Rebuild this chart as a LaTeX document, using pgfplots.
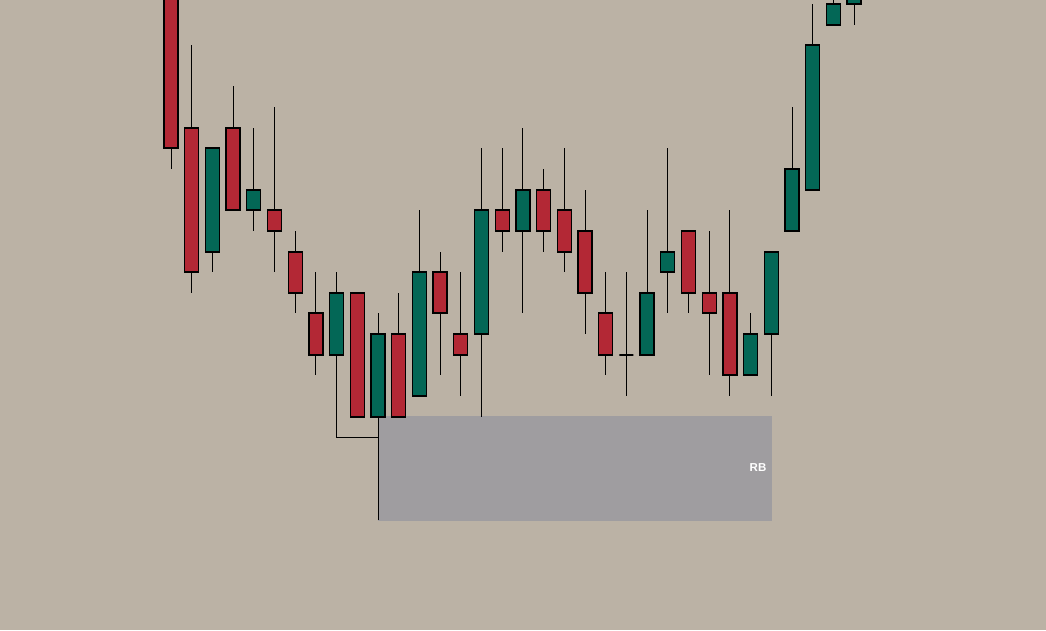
\documentclass[border=0pt]{standalone}
\usepackage{pgfplots}
\pgfplotsset{compat=1.18}
\usepackage{fontspec}
\setmainfont{Liberation Sans}

\definecolor{bgc}{HTML}{BBB2A5}
\definecolor{cred}{HTML}{B32835}
\definecolor{cgreen}{HTML}{036756}
\definecolor{boxgray}{HTML}{9F9DA0}

% candle: x, body top, body bottom, high, low, colour  (pixel units, y down)
\newcommand\candle[6]{%
  \addplot[black, line width=1pt] coordinates {(#1,#4) (#1,#5)};
  \pgfmathsetmacro\cxl{#1-7}\pgfmathsetmacro\cxr{#1+7}%
  \edef\tmp{\noexpand\addplot[fill=#6, draw=black, line width=1.3pt]
    coordinates {(\cxl,#2) (\cxr,#2) (\cxr,#3) (\cxl,#3)} --cycle;}%
  \tmp}

\begin{document}
\begin{tikzpicture}
\begin{axis}[
  scale only axis,
  width=1046pt, height=630pt,
  xmin=0, xmax=1046, ymin=0, ymax=630,
  y dir=reverse,
  hide axis,
  axis background/.style={fill=bgc},
]
% range box
\addplot[fill=boxgray, draw=none] coordinates {(378,416) (772,416) (772,521) (378,521)} --cycle;
\addplot[black, line width=1pt] coordinates {(336.6,355) (336.6,437) (378,437)};
\addplot[black, line width=1pt] coordinates {(378,417) (378,520)};

\candle{171.0}{-10}{148}{-20}{169}{cred}
\candle{191.7}{128}{272}{45}{293}{cred}
\candle{212.4}{148}{252}{148}{272}{cgreen}
\candle{233.1}{128}{210}{86}{210}{cred}
\candle{253.8}{190}{210}{128}{231}{cgreen}
\candle{274.5}{210}{231}{107}{272}{cred}
\candle{295.2}{252}{293}{231}{313}{cred}
\candle{315.9}{313}{355}{272}{375}{cred}
\candle{336.6}{293}{355}{272}{355}{cgreen}
\candle{357.3}{293}{417}{293}{417}{cred}
\candle{378.0}{334}{417}{313}{417}{cgreen}
\candle{398.7}{334}{417}{293}{417}{cred}
\candle{419.4}{272}{396}{210}{396}{cgreen}
\candle{440.1}{272}{313}{252}{375}{cred}
\candle{460.8}{334}{355}{272}{396}{cred}
\candle{481.5}{210}{334}{148}{417}{cgreen}
\candle{502.2}{210}{231}{148}{252}{cred}
\candle{522.9}{190}{231}{128}{313}{cgreen}
\candle{543.6}{190}{231}{169}{252}{cred}
\candle{564.3}{210}{252}{148}{272}{cred}
\candle{585.0}{231}{293}{190}{334}{cred}
\candle{605.7}{313}{355}{272}{375}{cred}
\candle{626.4}{355}{355}{272}{396}{cred}
\candle{647.1}{293}{355}{210}{355}{cgreen}
\candle{667.8}{252}{272}{148}{313}{cgreen}
\candle{688.5}{231}{293}{231}{313}{cred}
\candle{709.2}{293}{313}{231}{375}{cred}
\candle{729.9}{293}{375}{210}{396}{cred}
\candle{750.6}{334}{375}{313}{375}{cgreen}
\candle{771.3}{252}{334}{252}{396}{cgreen}
\candle{792.0}{169}{231}{107}{231}{cgreen}
\candle{812.7}{45}{190}{4}{190}{cgreen}
\candle{833.4}{4}{25}{-10}{25}{cgreen}
\candle{854.1}{-10}{4}{-20}{25}{cgreen}

\node[text=white, font=\bfseries\fontsize{11.5}{12}\selectfont] at (axis cs:758,468) {RB};
\end{axis}
\end{tikzpicture}
\end{document}
